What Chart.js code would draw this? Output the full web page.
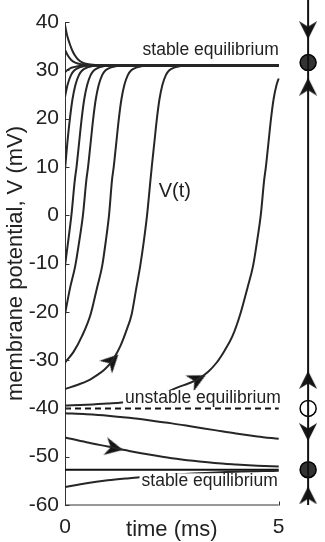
<!DOCTYPE html>
<html><head><meta charset="utf-8">
<script src="https://cdn.jsdelivr.net/npm/chart.js@4.4.1/dist/chart.umd.min.js"></script>
<style>html,body{margin:0;padding:0;background:#fff;}#wrap{width:325px;height:542px;}</style>
</head><body><div id="wrap"><canvas id="c" width="325" height="542"></canvas></div>
<script>
// ---- data ----
const xTicks = [0, 5];
const yTicks = [-60, -50, -40, -30, -20, -10, 0, 10, 20, 30, 40];
const unstableEq = -40;
const lowerEq = -52.7;
const curveA = [[0,39.4],[0.05,37.2],[0.11,35.5],[0.17,34.1],[0.23,33.1],[0.3,32.3],[0.4,31.65],[0.55,31.25],[0.8,31.05],[1.2,31],[5,31]];
const curveB = [[0,34.2],[0.07,33.0],[0.14,32.2],[0.24,31.6],[0.39,31.25],[0.64,31.05],[1.04,31],[5,31]];
const curveC = [[0,29.6],[0.05,30.0],[0.12,30.4],[0.2,30.65],[0.3,30.85],[0.45,30.97],[0.7,31],[5,31]];
const curveD = [[0,24.5],[0.06,27],[0.14,29],[0.22,30],[0.34,30.6],[0.59,31],[5,31]];
const curveE = [[0,9.4],[0.055,15],[0.115,20],[0.175,24],[0.245,27],[0.325,29],[0.405,30],[0.525,30.6],[0.775,31],[5,31]];
const curveF = [[0,-10.5],[0.08,-5],[0.15,0],[0.23,7.3],[0.27,10],[0.33,15],[0.39,20],[0.45,24],[0.52,27],[0.6,29],[0.68,30],[0.8,30.6],[1.05,31],[5,31]];
const curveG = [[0,-20.5],[0.12,-15],[0.24,-10.5],[0.34,-5],[0.42,0],[0.5,7.3],[0.54,10],[0.6,15],[0.66,20],[0.72,24],[0.79,27],[0.87,29],[0.95,30],[1.08,30.6],[1.35,31],[5,31]];
const curveH = [[0,-30.5],[0.2,-28.3],[0.4,-25],[0.6,-20.5],[0.75,-15],[0.87,-10.5],[0.96,-5],[1.03,0],[1.1,7.3],[1.14,10],[1.2,15],[1.26,20],[1.32,24],[1.39,27],[1.47,29],[1.55,30],[1.68,30.6],[1.95,31],[5,31]];
const curveI = [[0,-36],[0.3,-35.1],[0.55,-34.2],[0.75,-33.1],[0.92,-32],[1.05,-30.8],[1.15,-29.5],[1.3,-27],[1.44,-23.8],[1.56,-20.5],[1.67,-15],[1.76,-10.5],[1.85,-5],[1.92,0],[2.0,7.3],[2.03,10],[2.09,15],[2.15,20],[2.21,24],[2.28,27],[2.36,29],[2.44,30],[2.57,30.6],[2.85,31],[5,31]];
const curveJ = [[0,-39.4],[0.5,-39.25],[1.0,-39.0],[1.5,-38.6],[2.0,-37.7],[2.35,-36.7],[2.65,-35.6],[2.9,-34.8],[3.1,-34.0],[3.35,-32.4],[3.55,-30.5],[3.75,-27.8],[3.92,-25],[4.1,-20.5],[4.27,-15],[4.4,-10.5],[4.5,-5],[4.58,0],[4.66,7.3],[4.7,10],[4.76,15],[4.82,20],[4.88,24],[4.95,27],[5.0,28.3]];
const curveK = [[0,-41],[0.5,-41.2],[1,-41.5],[1.5,-41.95],[2,-42.5],[2.5,-43.1],[3,-43.8],[3.5,-44.5],[4,-45.2],[4.5,-45.8],[5,-46.3]];
const curveL = [[0,-46],[0.5,-47],[1,-47.9],[1.5,-48.8],[2,-49.6],[2.5,-50.3],[3,-50.85],[3.5,-51.3],[4,-51.6],[4.5,-51.85],[5,-52.05]];
const curveM = [[0,-56.3],[0.5,-55.5],[1,-54.9],[1.5,-54.45],[2,-54.05],[3,-53.5],[4,-53.1],[5,-52.9]];
// arrows on trajectories: [t, V, direction in degrees clockwise from "up"]
const curveArrows = [[1.1,-30.15,45],[3.1,-34.0,63],[1.15,-48.2,102]];
// phase line (right): equilibria and flow arrows, V values
const phaseSpan = [44.6, -60];
const filledEq = [31.6, -52.7];
const openEq = [-40];
const phaseDownTop = [38.3];
const phaseUpTop = [26.6];
const phaseUpLow = [-34.1, -58.0];
const phaseDownLow = [-44.9];

// ---- layout constants ----
const F = "'Liberation Sans', Arial, Helvetica, sans-serif";
const INK = '#222';
const X_MAX = 5.849;     // lets the phase line sit right of the axes
const PHASE_T = 5.688;   // horizontal position of the phase line (in t units)

function makeArrow(w, h) {
  const c = document.createElement('canvas');
  c.width = w; c.height = h;
  const g = c.getContext('2d');
  g.fillStyle = '#151515';
  g.beginPath();
  g.moveTo(w / 2, 0);
  g.lineTo(w, h);
  g.lineTo(w / 2, h * 0.7);
  g.lineTo(0, h);
  g.closePath();
  g.fill();
  return c;
}
const arrowImg = makeArrow(18, 18);

const toXY = arr => arr.map(([x, y]) => ({x, y}));
const curves = [curveA, curveB, curveC, curveD, curveE, curveF, curveG, curveH, curveI, curveJ, curveK, curveL, curveM];

const datasets = [];
curves.forEach(c => datasets.push({
  data: toXY(c), borderColor: '#262626', borderWidth: 2, pointRadius: 0,
  cubicInterpolationMode: 'monotone', fill: false
}));
datasets.push({data: [{x:0,y:lowerEq},{x:5,y:lowerEq}], borderColor:'#111', borderWidth:2, pointRadius:0});
datasets.push({data: [{x:0,y:unstableEq},{x:5,y:unstableEq}], borderColor:'#111', borderWidth:2, borderDash:[6,4], pointRadius:0});
// x axis line from 0 to 5
datasets.push({data: [{x:0,y:yTicks[0]},{x:5,y:yTicks[0]}], borderColor:'#333', borderWidth:1, pointRadius:0, clip:false});
// curve arrows
curveArrows.forEach(([t, v, r]) => datasets.push({
  data: [{x:t, y:v}], showLine:false, pointStyle: arrowImg, pointRotation: r, pointRadius: 9
}));
// phase line
datasets.push({data: phaseSpan.map(v => ({x:PHASE_T, y:v})), borderColor:'#111', borderWidth:2, pointRadius:0, clip:false});
datasets.push({data: phaseDownTop.map(v => ({x:PHASE_T, y:v})), showLine:false, pointStyle: arrowImg, pointRotation:180, pointRadius:9, clip:false});
datasets.push({data: phaseDownLow.map(v => ({x:PHASE_T, y:v})), showLine:false, pointStyle: arrowImg, pointRotation:180, pointRadius:9, clip:false});
datasets.push({data: phaseUpTop.map(v => ({x:PHASE_T, y:v})), showLine:false, pointStyle: arrowImg, pointRotation:0, pointRadius:9, clip:false});
datasets.push({data: phaseUpLow.map(v => ({x:PHASE_T, y:v})), showLine:false, pointStyle: arrowImg, pointRotation:0, pointRadius:9, clip:false});
datasets.push({data: filledEq.map(v => ({x:PHASE_T, y:v})), showLine:false, pointStyle:'circle', pointRadius:8, pointBackgroundColor:'#333', pointBorderColor:'#000', pointBorderWidth:1.5, clip:false});
datasets.push({data: openEq.map(v => ({x:PHASE_T, y:v})), showLine:false, pointStyle:'circle', pointRadius:8, pointBackgroundColor:'#fff', pointBorderColor:'#000', pointBorderWidth:1.5, clip:false});

const labels = [
  {text:'stable equilibrium', t:5, v:34.2, size:17.5, dx:0, bg:true},
  {text:'unstable equilibrium', t:5, v:-37.8, size:17.5, dx:2, bg:true},
  {text:'stable equilibrium', t:5, v:-55.0, size:17.5, dx:-1, bg:true}
];

const decor = {
  id: 'decor',
  afterDatasetsDraw(chart) {
    const xs = chart.scales.x, ys = chart.scales.y, ctx = chart.ctx;
    ctx.save();
    ctx.strokeStyle = '#333'; ctx.lineWidth = 1;
    const x0 = Math.round(xs.getPixelForValue(0)) + 0.5;
    yTicks.forEach(v => {
      const p = Math.round(ys.getPixelForValue(v)) + 0.5;
      ctx.beginPath(); ctx.moveTo(x0, p); ctx.lineTo(x0 + 4, p); ctx.stroke();
    });
    const yb = Math.round(ys.getPixelForValue(yTicks[0])) + 0.5;
    xTicks.forEach(v => {
      const p = Math.round(xs.getPixelForValue(v)) + 0.5;
      ctx.beginPath(); ctx.moveTo(p, yb); ctx.lineTo(p, yb - 4); ctx.stroke();
    });
    ctx.textBaseline = 'middle';
    labels.forEach(l => {
      ctx.font = l.size + 'px ' + F;
      const w = ctx.measureText(l.text).width;
      const xr = xs.getPixelForValue(l.t) + l.dx;
      const yc = ys.getPixelForValue(l.v);
      if (l.bg) { ctx.fillStyle = '#fff'; ctx.fillRect(xr - w - 2, yc - 7.5, w + 3, 15); }
      ctx.fillStyle = INK; ctx.textAlign = 'right';
      ctx.fillText(l.text, xr, yc);
    });
    ctx.font = '20px ' + F; ctx.textAlign = 'center'; ctx.fillStyle = INK;
    ctx.fillText('V(t)', xs.getPixelForValue(2.57), ys.getPixelForValue(5.0));
    ctx.font = '22px ' + F;
    ctx.fillText('time (ms)', xs.getPixelForValue(2.5), 530);
    ctx.restore();
  }
};

new Chart(document.getElementById('c'), {
  type: 'line',
  data: { datasets },
  options: {
    responsive: false, animation: false, events: [],
    layout: { padding: { top: 22, right: 0, bottom: 0, left: 0 } },
    plugins: { legend: { display: false }, tooltip: { enabled: false } },
    scales: {
      x: {
        type: 'linear', min: 0, max: X_MAX,
        afterFit(s) { s.height = 37; s.paddingRight = 0; s.paddingLeft = 0; },
        afterBuildTicks(s) { s.ticks = xTicks.map(v => ({value: v})); },
        ticks: { font: { size: 21, family: F }, color: INK, padding: 10, maxRotation: 0, autoSkip: false },
        grid: { display: true, drawOnChartArea: false, drawTicks: false },
        border: { display: false }
      },
      y: {
        type: 'linear', min: -60, max: 40,
        afterFit(s) { s.width = 65; },
        afterBuildTicks(s) { s.ticks = yTicks.map(v => ({value: v})); },
        ticks: { font: { size: 21, family: F }, color: INK, padding: 6, autoSkip: false },
        grid: { display: true, drawOnChartArea: false, drawTicks: false },
        border: { display: true, color: '#333', width: 1 },
        title: { display: true, text: 'membrane potential, V (mV)', font: { size: 22, family: F }, color: INK, padding: { top: 3, bottom: 0 } }
      }
    }
  },
  plugins: [decor]
});
</script></body></html>
